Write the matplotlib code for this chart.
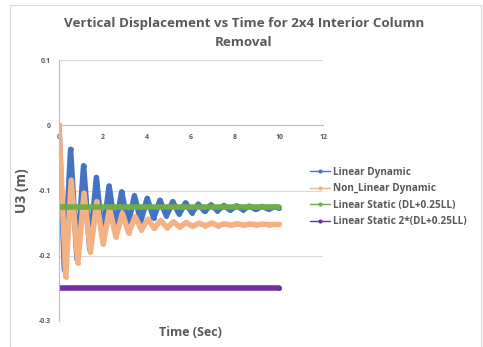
import matplotlib.pyplot as plt
from matplotlib.patches import Rectangle

plt.rcParams['font.family'] = ['Open Sans', 'DejaVu Sans']
plt.rcParams['axes.unicode_minus'] = False

# extrema (time in s, U3 in m)
lin_t = [0, 0.25, 0.53, 0.82, 1.12, 1.40, 1.70, 1.98, 2.28, 2.56, 2.85, 3.14, 3.43, 3.72,
         4.01, 4.30, 4.59, 4.88, 5.17, 5.46, 5.75, 6.04, 6.33, 6.62, 6.91, 7.20, 7.49,
         7.78, 8.07, 8.36, 8.65, 8.94, 9.23, 9.52, 9.81, 10.0]
lin_u = [0, -0.222, -0.037, -0.205, -0.062, -0.190, -0.080, -0.172, -0.093, -0.160,
         -0.102, -0.152, -0.108, -0.147, -0.112, -0.142, -0.115, -0.139, -0.117, -0.136,
         -0.119, -0.134, -0.121, -0.132, -0.122, -0.131, -0.123, -0.130, -0.1235,
         -0.1295, -0.124, -0.129, -0.1245, -0.1285, -0.125, -0.127]

nl_t = [0, 0.31, 0.56, 0.86, 1.14, 1.43, 1.72, 2.01, 2.30, 2.59, 2.88, 3.17, 3.46, 3.75,
        4.04, 4.33, 4.62, 4.91, 5.20, 5.49, 5.78, 6.07, 6.36, 6.65, 6.94, 7.23, 7.52,
        7.81, 8.10, 8.39, 8.68, 8.97, 9.26, 9.55, 9.84, 10.0]
nl_u = [0, -0.232, -0.084, -0.211, -0.104, -0.194, -0.117, -0.182, -0.128, -0.171,
        -0.135, -0.165, -0.140, -0.160, -0.144, -0.158, -0.146, -0.157, -0.148, -0.156,
        -0.149, -0.155, -0.150, -0.154, -0.150, -0.154, -0.151, -0.153, -0.151, -0.153,
        -0.1515, -0.1525, -0.1515, -0.1525, -0.152, -0.152]

static_t = [0, 10]
static_u = [-0.125, -0.125]
static2_u = [-0.25, -0.25]

grey = '#595959'

fig = plt.figure(figsize=(4.83, 3.47), dpi=100)
fig.patches.append(Rectangle((0.02, 0.0), 0.975, 0.985, transform=fig.transFigure,
                             fill=False, edgecolor='#d9d9d9', lw=0.8))
ax = fig.add_axes([0.122, 0.075, 0.547, 0.752])

style = dict(lw=4, marker='o', ms=2.5, solid_joinstyle='round', solid_capstyle='round')
ax.plot(lin_t, lin_u, color='#4472C4', label='Linear Dynamic', **style)
ax.plot(nl_t, nl_u, color='#F4B183', label='Non_Linear Dynamic', **style)
ax.plot(static_t, static_u, color='#70AD47', label='Linear Static (DL+0.25LL)', **style)
ax.plot(static_t, static2_u, color='#7030A0', label='Linear Static 2*(DL+0.25LL)', **style)

ax.set_xlim(0, 12)
ax.set_ylim(-0.3, 0.1)
ax.set_xticks([0, 2, 4, 6, 8, 10, 12])
ax.set_yticks([-0.3, -0.2, -0.1, 0, 0.1])
ax.set_yticklabels(['-0.3', '-0.2', '-0.1', '0', '0.1'])
ax.grid(axis='y', color='#d9d9d9', lw=0.8)
ax.set_axisbelow(True)
for s in ['top', 'right']:
    ax.spines[s].set_visible(False)
ax.spines['bottom'].set_position(('data', 0))
ax.spines['bottom'].set_color('#bfbfbf')
ax.spines['left'].set_color('#bfbfbf')
ax.tick_params(length=0, labelsize=5, colors=grey, pad=6)
for lab in ax.get_xticklabels() + ax.get_yticklabels():
    lab.set_fontweight('bold')

fig.text(0.505, 0.905, 'Vertical Displacement vs Time for 2x4 Interior Column\nRemoval',
         ha='center', va='center', fontsize=9.6, fontweight='bold', color=grey,
         linespacing=1.55)
fig.text(0.046, 0.45, 'U3 (m)', rotation=90, ha='center', va='center', fontsize=10,
         color=grey, fontweight='bold')
fig.text(0.395, 0.043, 'Time (Sec)', ha='center', va='center', fontsize=9,
         color=grey, fontweight='bold')

ax.legend(loc='center left', bbox_to_anchor=(0.915, 0.475), frameon=False,
          labelcolor=grey, handlelength=2.0, handletextpad=0.35, labelspacing=0.55,
          markerscale=0.8, prop={'weight': 'bold', 'size': 7.2})
for ln in ax.get_legend().get_lines():
    ln.set_linewidth(1)

fig.savefig('out.png', dpi=100)
